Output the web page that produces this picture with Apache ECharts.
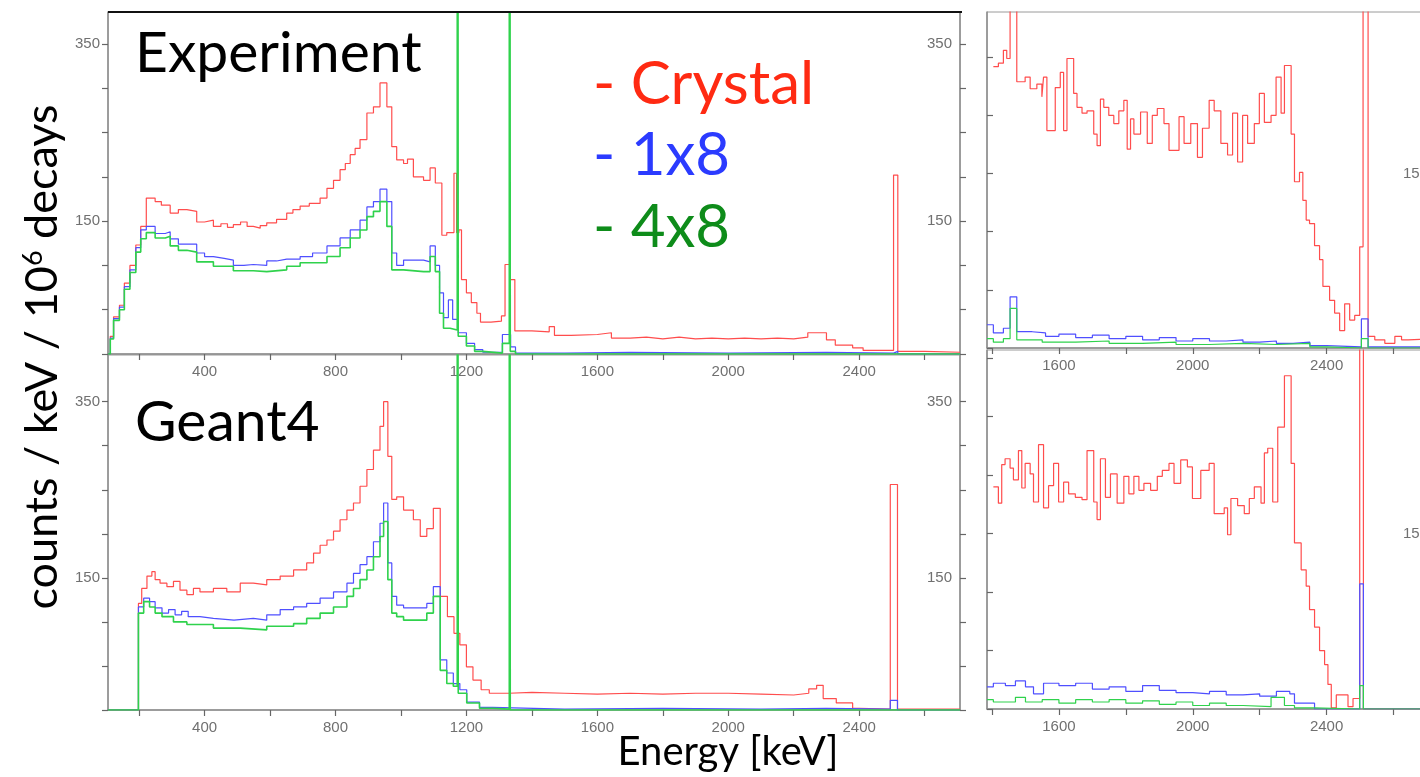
<!DOCTYPE html>
<html><head><meta charset="utf-8">
<script src="https://cdn.jsdelivr.net/npm/echarts@6/dist/echarts.min.js"></script>
<style>html,body{margin:0;padding:0;background:#fff}#c{width:1420px;height:777px}</style>
</head><body><div id="c"></div>
<script>
// ---- tick / label values ----
const xTicksMain = [200,400,600,800,1000,1200,1400,1600,1800,2000,2200,2400,2600];
const xLabelsMain = [400,800,1200,1600,2000,2400];
const xTicksZoom = [1400,1600,1800,2000,2200,2400,2600];
const xLabelsZoom = [1600,2000,2400];
const yTicksMain = [0,50,100,150,200,250,300,350];
const yLabels = [150,350];
const yTicksZoomTop = [0,50,100,150,200,250];
const yTicksZoomBot = [0,50,100,150,200,250,300];

// ---- histogram data: [bin start energy (keV), value] ----
const expRed = [[105,0],[112,20],[122,42],[140,55],[155,80],[172,100],[190,123],[205,144],[222,176],[249,172],[268,168],[295,159],[320,163],[346,161],[376,149],[400,151],[427,144],[450,147],[470,143],[488,146],[510,149],[530,144],[549,142],[570,145],[590,148],[620,152],[651,159],[670,163],[692,167],[720,170],[753,176],[774,187],[794,196],[814,208],[830,215],[845,225],[860,232],[875,242],[896,272],[916,279],[936,306],[957,279],[972,234],[987,219],[1008,215],[1020,220],[1038,200],[1069,196],[1089,210],[1105,193],[1125,134],[1140,137],[1162,204],[1170,137],[1177,140],[1185,84],[1200,69],[1215,58],[1232,46],[1243,36],[1275,37],[1307,43],[1318,101],[1332,84],[1348,26],[1400,25],[1453,31],[1469,21],[1520,22],[1600,24],[1643,18],[1700,19],[1750,17],[1800,19],[1850,17],[1900,18],[1950,17],[2000,18],[2050,17],[2100,18],[2150,17],[2200,19],[2243,24],[2300,16],[2327,10],[2380,7],[2412,4],[2505,202],[2518,3],[2600,2],[2708,2]];
const expBlue = [[105,0],[112,18],[122,40],[140,53],[155,76],[172,95],[190,120],[205,140],[222,144],[249,136],[280,138],[295,130],[320,124],[346,124],[376,114],[400,110],[427,108],[460,106],[488,100],[520,101],[549,100],[590,105],[620,107],[651,107],[692,110],[730,114],[774,122],[814,131],[845,140],[875,151],[896,166],[916,172],[936,186],[957,172],[972,114],[987,100],[1008,106],[1038,106],[1069,104],[1089,122],[1105,100],[1118,69],[1130,41],[1145,61],[1158,39],[1175,24],[1200,12],[1225,5],[1250,2],[1310,22],[1335,8],[1350,1],[1500,2],[1700,1],[2000,2],[2300,1],[2505,3],[2518,0],[2708,0]];
const expGreen = [[105,0],[112,17],[122,38],[140,50],[155,73],[172,92],[190,115],[205,130],[222,137],[249,131],[280,133],[295,122],[320,117],[346,115],[376,104],[427,99],[488,94],[549,93],[590,95],[651,99],[692,103],[774,110],[814,120],[845,131],[875,140],[896,155],[916,161],[936,172],[957,144],[972,95],[1008,93],[1069,93],[1089,110],[1105,93],[1118,46],[1130,29],[1150,27],[1172,2000],[1175,20],[1200,9],[1225,3],[1250,1],[1310,12],[1331,2000],[1334,3],[1350,0],[2708,0]];

const g4Red = [[105,0],[198,121],[208,138],[224,152],[239,157],[249,148],[264,144],[285,140],[305,146],[325,136],[346,131],[366,138],[386,134],[427,138],[468,134],[509,144],[549,142],[590,148],[631,152],[672,159],[712,167],[733,178],[753,187],[774,193],[794,203],[814,216],[835,227],[855,235],[875,254],[896,273],[916,295],[936,322],[947,350],[960,288],[972,239],[987,242],[1008,227],[1038,216],[1059,197],[1079,206],[1099,229],[1120,129],[1142,106],[1162,87],[1180,74],[1200,49],[1220,34],[1245,23],[1270,19],[1330,20],[1400,19],[1500,18],[1600,19],[1700,18],[1800,19],[1900,19],[2000,18],[2100,17],[2200,19],[2246,24],[2270,28],[2290,13],[2330,8],[2380,2],[2400,1],[2495,256],[2517,1],[2708,1]];
const g4Blue = [[105,0],[198,117],[214,127],[232,123],[249,116],[270,110],[290,114],[310,108],[330,112],[350,106],[386,104],[427,102],[490,104],[549,102],[590,108],[631,114],[672,117],[712,121],[753,127],[794,134],[835,144],[855,155],[875,165],[896,174],[916,191],[936,212],[947,235],[960,167],[972,129],[987,119],[1008,116],[1079,121],[1099,140],[1120,57],[1140,42],[1160,30],[1180,23],[1201,9],[1240,3],[1280,1],[1500,2],[1800,1],[2100,2],[2300,1],[2495,11],[2517,0],[2708,0]];
const g4Green = [[105,0],[198,110],[214,123],[232,117],[249,110],[270,106],[305,100],[346,97],[427,93],[509,91],[590,95],[672,98],[712,104],[753,110],[794,117],[835,129],[855,138],[875,148],[896,159],[916,174],[936,197],[947,214],[960,148],[972,110],[987,106],[1008,102],[1079,110],[1099,129],[1120,45],[1140,30],[1160,27],[1172,2000],[1175,19],[1201,8],[1240,2],[1280,1],[1331,2000],[1334,0],[2708,0]];

const zExpRed = [[1404,242],[1419,245],[1434,256],[1444,249],[1454,2000],[1474,229],[1499,233],[1514,223],[1534,227],[1549,216],[1554,233],[1564,187],[1589,224],[1604,237],[1614,187],[1624,249],[1644,219],[1654,207],[1669,202],[1684,204],[1704,184],[1714,174],[1724,214],[1734,207],[1749,200],[1764,193],[1779,204],[1794,213],[1804,171],[1814,197],[1824,184],[1844,203],[1864,176],[1879,200],[1894,206],[1914,193],[1929,170],[1959,199],[1974,176],[1994,193],[2014,164],[2029,189],[2049,213],[2064,204],[2084,176],[2104,166],[2119,202],[2134,160],[2149,200],[2164,176],[2184,193],[2199,219],[2214,194],[2234,200],[2249,233],[2264,202],[2274,243],[2294,184],[2304,143],[2319,151],[2329,127],[2339,110],[2349,107],[2364,88],[2379,76],[2389,53],[2409,41],[2424,30],[2439,15],[2454,38],[2469,24],[2484,28],[2499,87],[2509,2000],[2524,10],[2544,7],[2574,4],[2604,10],[2624,7],[2644,8],[2727,8]];
const zExpBlue = [[1385,20],[1404,13],[1434,17],[1454,44],[1474,14],[1520,13],[1560,10],[1600,12],[1650,9],[1700,11],[1750,8],[1800,10],[1850,7],[1900,9],[1950,6],[2000,8],[2050,6],[2100,7],[2150,5],[2200,6],[2250,4],[2300,5],[2350,2],[2400,1],[2504,25],[2524,1],[2727,1]];
const zExpGreen = [[1385,8],[1404,5],[1434,8],[1454,34],[1474,7],[1550,5],[1650,6],[1750,4],[1850,5],[1950,3],[2050,4],[2150,3],[2250,4],[2350,1],[2400,0],[2504,8],[2524,0],[2727,0]];

const zG4Red = [[1404,190],[1419,176],[1429,209],[1439,214],[1454,206],[1464,196],[1479,221],[1489,189],[1499,210],[1514,201],[1524,177],[1539,226],[1554,172],[1569,191],[1584,210],[1599,177],[1614,194],[1629,184],[1649,181],[1669,179],[1684,221],[1704,177],[1714,162],[1724,214],[1739,181],[1754,201],[1774,176],[1794,199],[1809,184],[1824,199],[1839,187],[1854,193],[1874,187],[1894,199],[1909,204],[1929,210],[1944,193],[1964,213],[1984,207],[1999,180],[2024,204],[2049,210],[2064,167],[2094,172],[2104,149],[2114,180],[2134,174],[2154,167],[2169,180],[2184,190],[2204,176],[2214,219],[2224,223],[2239,177],[2254,241],[2274,285],[2294,210],[2304,142],[2324,119],[2339,105],[2349,85],[2364,70],[2379,50],[2394,38],[2404,21],[2414,1],[2429,12],[2464,2],[2479,9],[2499,2000],[2510,0],[2727,0]];
const zG4Blue = [[1385,19],[1404,22],[1440,20],[1470,24],[1500,19],[1524,13],[1554,22],[1600,20],[1650,22],[1700,17],[1750,19],[1800,15],[1850,20],[1900,16],[1950,14],[2000,13],[2050,15],[2100,12],[2150,13],[2200,11],[2250,15],[2290,13],[2304,5],[2364,0],[2499,107],[2510,0],[2727,0]];
const zG4Green = [[1385,8],[1404,6],[1470,10],[1500,6],[1550,8],[1600,5],[1650,8],[1700,6],[1750,8],[1800,5],[1850,7],[1900,4],[1950,6],[2000,3],[2050,5],[2100,3],[2150,2],[2234,10],[2274,3],[2304,1],[2364,0],[2499,20],[2510,0],[2727,0]];

// ---- styling ----
const RED = '#ff4d4d', BLUE = '#4f4fff', GREEN = '#2fd24c';
const AX = '#8c8c8c', LBL = '#707070', LF = 'Liberation Sans';
const grids = [
  {left:108, top:12, width:852, height:342},
  {left:108, top:355, width:852, height:355},
  {left:987, top:12, width:449, height:336},
  {left:987, top:350, width:449, height:359}
];
const xr = [[105,2708],[105,2708],[1385,2727],[1385,2727]];
const yr = [386, 403, 289, 307];
const fmt = v => String(v);

function xa(i, ticks, labels){
  return {gridIndex:i, type:'value', min:xr[i][0], max:xr[i][1],
    axisLine:{show:true, onZero:false, lineStyle:{color:AX, width:1.5}},
    axisTick:{show:true, customValues:ticks, length:6, lineStyle:{color:'#666', width:1.2}},
    axisLabel:{customValues:labels, formatter:fmt, margin:10, fontSize:15, color:LBL, fontFamily:LF},
    splitLine:{show:false}};
}
function ya(i, pos, ticks, showLbl, inside){
  return {gridIndex:i, type:'value', position:pos, min:0, max:yr[i],
    axisLine:{show:true, lineStyle:{color:AX, width:1.5}},
    axisTick:{show:true, customValues:ticks, length:6, inside:!!inside, lineStyle:{color:'#666', width:1.2}},
    axisLabel:{show:showLbl, customValues:yLabels, formatter:fmt, inside:pos==='right', margin:8, fontSize:15, color:LBL, fontFamily:LF},
    splitLine:{show:false}};
}
function ser(data, color, gi, w){
  return {type:'line', step:'end', data:data, xAxisIndex:gi, yAxisIndex:gi*2,
    symbol:'none', clip:true, animation:false, silent:true,
    lineStyle:{color:color, width:w||1.2}};
}

const chart = echarts.init(document.getElementById('c'), null, {renderer:'canvas'});
chart.setOption({
  backgroundColor:'#fff',
  animation:false,
  grid: grids.map(g => Object.assign({show:true, borderColor:'#9a9a9a', borderWidth:1, containLabel:false, outerBoundsMode:'none'}, g)),
  xAxis:[xa(0,xTicksMain,xLabelsMain), xa(1,xTicksMain,xLabelsMain), xa(2,xTicksZoom,xLabelsZoom), xa(3,xTicksZoom,xLabelsZoom)],
  yAxis:[
    ya(0,'left',yTicksMain,true), ya(0,'right',yTicksMain,true),
    ya(1,'left',yTicksMain,true), ya(1,'right',yTicksMain,true),
    ya(2,'left',yTicksZoomTop,false,true), ya(2,'right',yTicksZoomTop,true),
    ya(3,'left',yTicksZoomBot,false,true), ya(3,'right',yTicksZoomBot,true)
  ],
  series:[
    ser(expRed,RED,0), ser(expBlue,BLUE,0), ser(expGreen,GREEN,0,1.6),
    ser(g4Red,RED,1), ser(g4Blue,BLUE,1), ser(g4Green,GREEN,1,1.6),
    ser(zExpRed,RED,2), ser(zExpBlue,BLUE,2), ser(zExpGreen,GREEN,2),
    ser(zG4Red,RED,3), ser(zG4Blue,BLUE,3), ser(zG4Green,GREEN,3)
  ],
  graphic:[
    {type:'line', shape:{x1:108,y1:12,x2:962,y2:12}, style:{stroke:'#111', lineWidth:2}, z:100},
    {type:'text', x:135, y:54, style:{text:'Experiment', fontSize:57, fontFamily:'Lato', fill:'#000', verticalAlign:'middle'}, z:100},
    {type:'text', x:135, y:423, style:{text:'Geant4', fontSize:57, fontFamily:'Lato', fill:'#000', verticalAlign:'middle'}, z:100},
    {type:'text', x:593, y:85, style:{text:'- Crystal', fontSize:60, fontFamily:'Lato', fill:'#ff2a12', verticalAlign:'middle'}, z:100},
    {type:'text', x:593, y:156, style:{text:'- 1x8', fontSize:60, fontFamily:'Lato', fill:'#2b3bff', verticalAlign:'middle'}, z:100},
    {type:'text', x:593, y:228, style:{text:'- 4x8', fontSize:60, fontFamily:'Lato', fill:'#0e8c1a', verticalAlign:'middle'}, z:100},
    {type:'text', x:728, y:752, style:{text:'Energy [keV]', fontSize:40, fontFamily:'Lato', fill:'#000', align:'center', verticalAlign:'middle'}, z:100},
    {type:'text', x:42, y:357, rotation:Math.PI/2,
      style:{text:'{a|counts / keV / 10}{s|6}{a| decays}', align:'center', verticalAlign:'middle',
        rich:{a:{fontSize:45, fontFamily:'Lato', fill:'#000'}, s:{fontSize:27, fontFamily:'Lato', fill:'#000', verticalAlign:'top'}}}, z:100}
  ]
});
</script></body></html>
